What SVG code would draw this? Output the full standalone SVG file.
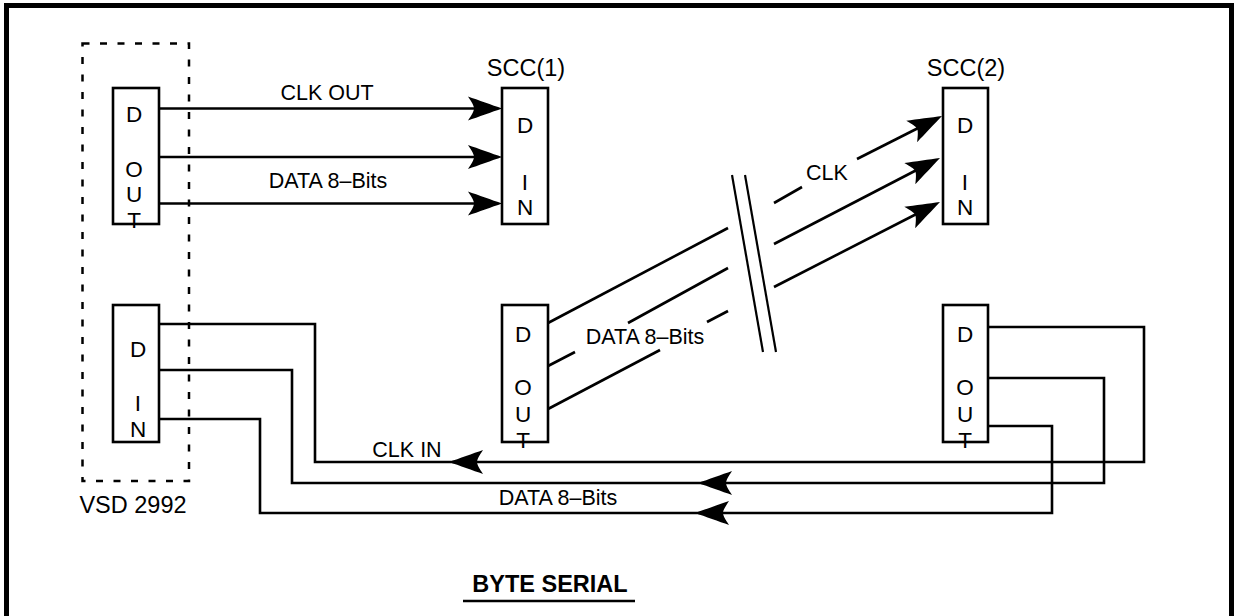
<svg xmlns="http://www.w3.org/2000/svg" xmlns:xlink="http://www.w3.org/1999/xlink" width="1234" height="616" viewBox="0 0 1234 616">
  <style>
    text { font-family: "Liberation Sans", Arial, sans-serif; fill: #000; }
    .lbl { font-size: 21.5px; text-anchor: middle; }
    .big { font-size: 23.5px; text-anchor: middle; }
    .ch { font-size: 22.5px; text-anchor: middle; }
    .box { fill: #fff; stroke: #000; stroke-width: 2.6; }
    .wire { fill: none; stroke: #000; stroke-width: 2.6; stroke-linejoin: miter; }
    .thin { fill: none; stroke: #000; stroke-width: 2.2; }
  </style>
  <defs>
    <!-- barbed arrowhead, tip at origin, pointing along +x -->
    <path id="ah" d="M0,0 C-10,-3.5 -24,-8.5 -34,-12 C-30,-6 -28,-2.5 -28,0 C-28,2.5 -30,6 -34,12 C-24,8.5 -10,3.5 0,0 Z" fill="#000"/>
  </defs>

  <rect width="1234" height="616" fill="#fff"/>

  <!-- outer frame -->
  <rect id="frame" x="6.5" y="5.5" width="1225" height="700" fill="none" stroke="#000" stroke-width="5"/>

  <!-- VSD 2992 enclosure -->
  <g id="vsd2992">
    <rect x="82.5" y="43.5" width="106.5" height="437.5" fill="none" stroke="#000" stroke-width="2.5" stroke-dasharray="7 10.5"/>
    <text class="big" x="133" y="513">VSD 2992</text>
  </g>

  <!-- connectors -->
  <g id="connectors">
    <!-- VSD outputs to SCC(1) -->
    <line class="wire" x1="159" y1="108.5" x2="496" y2="108.5"/>
    <line class="wire" x1="159" y1="157" x2="496" y2="157"/>
    <line class="wire" x1="159" y1="203.5" x2="496" y2="203.5"/>
    <use xlink:href="#ah" transform="translate(502,108.5)"/>
    <use xlink:href="#ah" transform="translate(502,157)"/>
    <use xlink:href="#ah" transform="translate(502,203.5)"/>

    <!-- SCC(1) outputs to SCC(2), broken link -->
    <line class="wire" x1="548" y1="323" x2="728" y2="228"/>
    <line class="wire" x1="774" y1="203" x2="802" y2="187"/>
    <line class="wire" x1="857" y1="159" x2="936" y2="119"/>

    <line class="wire" x1="548" y1="366" x2="575" y2="352"/>
    <line class="wire" x1="628" y1="323" x2="728" y2="268"/>
    <line class="wire" x1="774" y1="244" x2="934" y2="161"/>

    <line class="wire" x1="548" y1="409" x2="660" y2="350"/>
    <line class="wire" x1="707" y1="322" x2="728" y2="311"/>
    <line class="wire" x1="774" y1="287" x2="934" y2="205"/>

    <use xlink:href="#ah" transform="translate(942,116) rotate(-27)"/>
    <use xlink:href="#ah" transform="translate(940,158) rotate(-27.4)"/>
    <use xlink:href="#ah" transform="translate(940,202) rotate(-27.1)"/>

    <!-- break marks -->
    <line class="thin" x1="732" y1="175" x2="763" y2="352"/>
    <line class="thin" x1="745" y1="175" x2="776" y2="352"/>

    <!-- SCC(2) outputs back to VSD inputs -->
    <polyline class="wire" points="988,327 1144,327 1144,462 315,462 315,324 159,324"/>
    <polyline class="wire" points="988,378 1104,378 1104,483 292,483 292,370 159,370"/>
    <polyline class="wire" points="988,426 1052,426 1052,513 260,513 260,419 159,419"/>
    <use xlink:href="#ah" transform="translate(449,462) rotate(180)"/>
    <use xlink:href="#ah" transform="translate(698,483) rotate(180)"/>
    <use xlink:href="#ah" transform="translate(695,513) rotate(180)"/>

    <!-- connector labels -->
    <text class="lbl" x="327" y="100">CLK OUT</text>
    <text class="lbl" x="328" y="188">DATA 8–Bits</text>
    <text class="lbl" x="827" y="180">CLK</text>
    <text class="lbl" x="645" y="344">DATA 8–Bits</text>
    <text class="lbl" x="407" y="457">CLK IN</text>
    <text class="lbl" x="558" y="505">DATA 8–Bits</text>
  </g>

  <!-- VSD data out -->
  <g id="vsd-dout">
    <rect class="box" x="113" y="88" width="46" height="136"/>
    <text class="ch" x="134" y="122">D</text>
    <text class="ch" x="134" y="177">O</text>
    <text class="ch" x="134" y="202">U</text>
    <text class="ch" x="134" y="228">T</text>
  </g>

  <!-- VSD data in -->
  <g id="vsd-din">
    <rect class="box" x="113" y="305" width="46" height="137"/>
    <text class="ch" x="138" y="357">D</text>
    <text class="ch" x="138" y="411">I</text>
    <text class="ch" x="138" y="437">N</text>
  </g>

  <!-- SCC(1) data in -->
  <g id="scc1-din">
    <text class="big" x="526" y="76">SCC(1)</text>
    <rect class="box" x="502" y="88" width="46" height="136"/>
    <text class="ch" x="525" y="133">D</text>
    <text class="ch" x="525" y="190">I</text>
    <text class="ch" x="525" y="215">N</text>
  </g>

  <!-- SCC(1) data out -->
  <g id="scc1-dout">
    <rect class="box" x="502" y="305" width="46" height="137"/>
    <text class="ch" x="523" y="342">D</text>
    <text class="ch" x="523" y="395">O</text>
    <text class="ch" x="523" y="422">U</text>
    <text class="ch" x="523" y="448">T</text>
  </g>

  <!-- SCC(2) data in -->
  <g id="scc2-din">
    <text class="big" x="966" y="76">SCC(2)</text>
    <rect class="box" x="943" y="88" width="45" height="136"/>
    <text class="ch" x="965" y="133">D</text>
    <text class="ch" x="965" y="190">I</text>
    <text class="ch" x="965" y="215">N</text>
  </g>

  <!-- SCC(2) data out -->
  <g id="scc2-dout">
    <rect class="box" x="943" y="305" width="45" height="137"/>
    <text class="ch" x="965" y="342">D</text>
    <text class="ch" x="965" y="395">O</text>
    <text class="ch" x="965" y="422">U</text>
    <text class="ch" x="965" y="448">T</text>
  </g>

  <!-- caption -->
  <g id="caption">
    <text x="550" y="592" font-size="23.5" font-weight="bold" text-anchor="middle">BYTE SERIAL</text>
    <line x1="463" y1="601" x2="635" y2="601" stroke="#000" stroke-width="2.5"/>
  </g>
</svg>
